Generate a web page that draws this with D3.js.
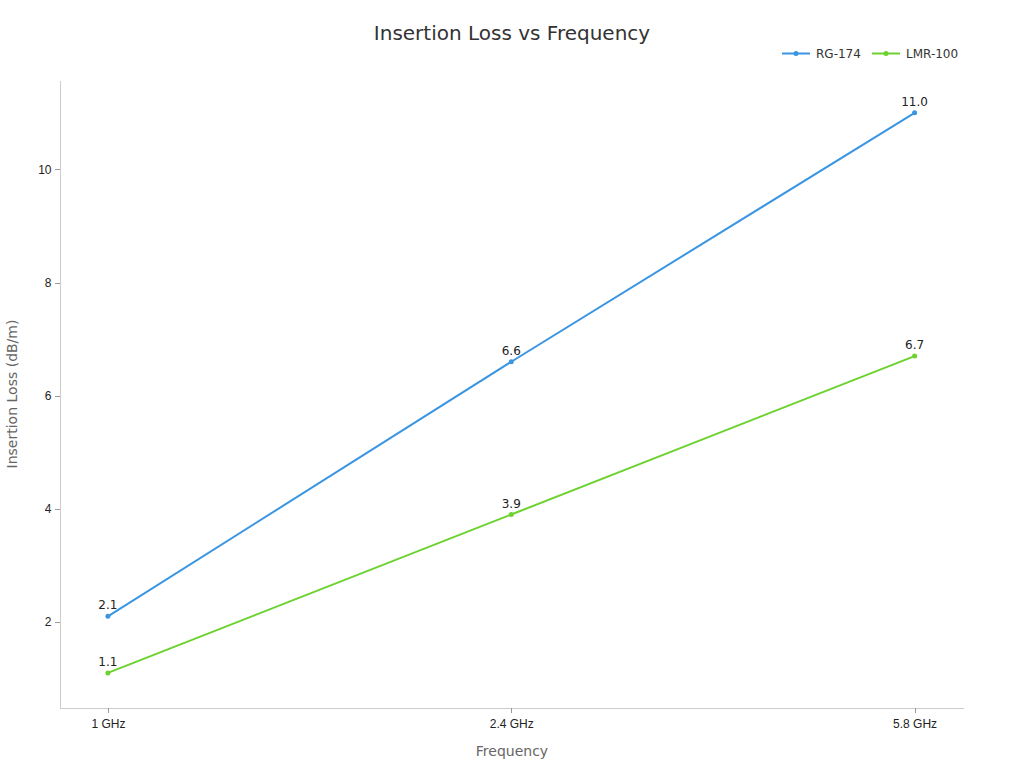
<!DOCTYPE html>
<html lang="en">
  <head>
    <meta charset="UTF-8">
    <script src="https://cdnjs.cloudflare.com/ajax/libs/d3/7.8.5/d3.min.js"></script>
    <style>
      body { margin: 0; background: #fff; }
      svg { font-family: 'DejaVu Sans', sans-serif; }
      .axis path, .axis line { stroke: #ccc; shape-rendering: crispEdges; }
      .axis .tick line { stroke: #999; }
      .axis text { font-size: 12px; fill: #222; }
    </style>
    <title>Insertion Loss vs Frequency</title>
  </head>
  <body>
    <script>
      // Data
      const categories = ['1 GHz', '2.4 GHz', '5.8 GHz'];
      const rg174 = [2.1, 6.6, 11.0];
      const lmr100 = [1.1, 3.9, 6.7];
      const seriesNames = ['RG-174', 'LMR-100'];
      const yTicks = [2, 4, 6, 8, 10];

      const w = 1024, h = 768;
      const margin = { top: 80, right: 61, bottom: 60, left: 59.5 };
      const colors = ['#3a95e2', '#6bd22f'];

      const series = [
        { name: seriesNames[0], values: rg174, color: colors[0] },
        { name: seriesNames[1], values: lmr100, color: colors[1] }
      ];

      const svg = d3.select('body').append('svg')
        .attr('width', w).attr('height', h);

      const xScale = d3.scalePoint()
        .domain(categories)
        .range([margin.left, w - margin.right])
        .padding(0.12);

      const yScale = d3.scaleLinear()
        .domain([0.48, 11.58])
        .range([h - margin.bottom, margin.top]);

      // Axes (tickSize first, it also sets the outer size)
      svg.append('g')
        .attr('class', 'x axis')
        .attr('transform', 'translate(0,' + (h - margin.bottom) + ')')
        .call(d3.axisBottom(xScale).tickSize(5).tickSizeOuter(0).tickPadding(6));

      svg.append('g')
        .attr('class', 'y axis')
        .attr('transform', 'translate(' + margin.left + ',0)')
        .call(d3.axisLeft(yScale).tickValues(yTicks).tickSize(5).tickSizeOuter(0).tickPadding(3));

      // Titles
      svg.append('text')
        .attr('x', w / 2).attr('y', 40)
        .attr('text-anchor', 'middle')
        .attr('font-size', 20).attr('fill', '#333')
        .text('Insertion Loss vs Frequency');

      svg.append('text')
        .attr('x', 512).attr('y', 756)
        .attr('text-anchor', 'middle')
        .attr('font-size', 14).attr('fill', '#666')
        .text('Frequency');

      svg.append('text')
        .attr('transform', 'translate(17,' + ((margin.top + h - margin.bottom) / 2) + ') rotate(-90)')
        .attr('text-anchor', 'middle')
        .attr('font-size', 14).attr('fill', '#666')
        .text('Insertion Loss (dB/m)');

      // Lines
      const line = d3.line()
        .x((d, i) => xScale(categories[i]))
        .y(d => yScale(d));

      series.forEach(s => {
        const g = svg.append('g');
        g.append('path')
          .datum(s.values)
          .attr('fill', 'none')
          .attr('stroke', s.color)
          .attr('stroke-width', 2)
          .attr('d', line);

        g.selectAll('circle')
          .data(s.values)
          .enter().append('circle')
          .attr('cx', (d, i) => xScale(categories[i]))
          .attr('cy', d => yScale(d))
          .attr('r', 2.5)
          .attr('fill', s.color);

        g.selectAll('text')
          .data(s.values)
          .enter().append('text')
          .attr('x', (d, i) => xScale(categories[i]))
          .attr('y', d => yScale(d) - 7)
          .attr('text-anchor', 'middle')
          .attr('font-size', 12).attr('fill', '#222')
          .text(d => d.toFixed(1));
      });

      // Legend
      const legendX = [782, 872];
      series.forEach((s, i) => {
        const lg = svg.append('g').attr('transform', 'translate(' + legendX[i] + ',53.5)');
        lg.append('line')
          .attr('x1', 0).attr('x2', 28)
          .attr('stroke', s.color).attr('stroke-width', 2);
        lg.append('circle').attr('cx', 14).attr('r', 2.5).attr('fill', s.color);
        lg.append('text')
          .attr('x', 34).attr('dy', '0.35em')
          .attr('font-size', 12).attr('fill', '#333')
          .text(s.name);
      });
    </script>
  </body>
</html>
